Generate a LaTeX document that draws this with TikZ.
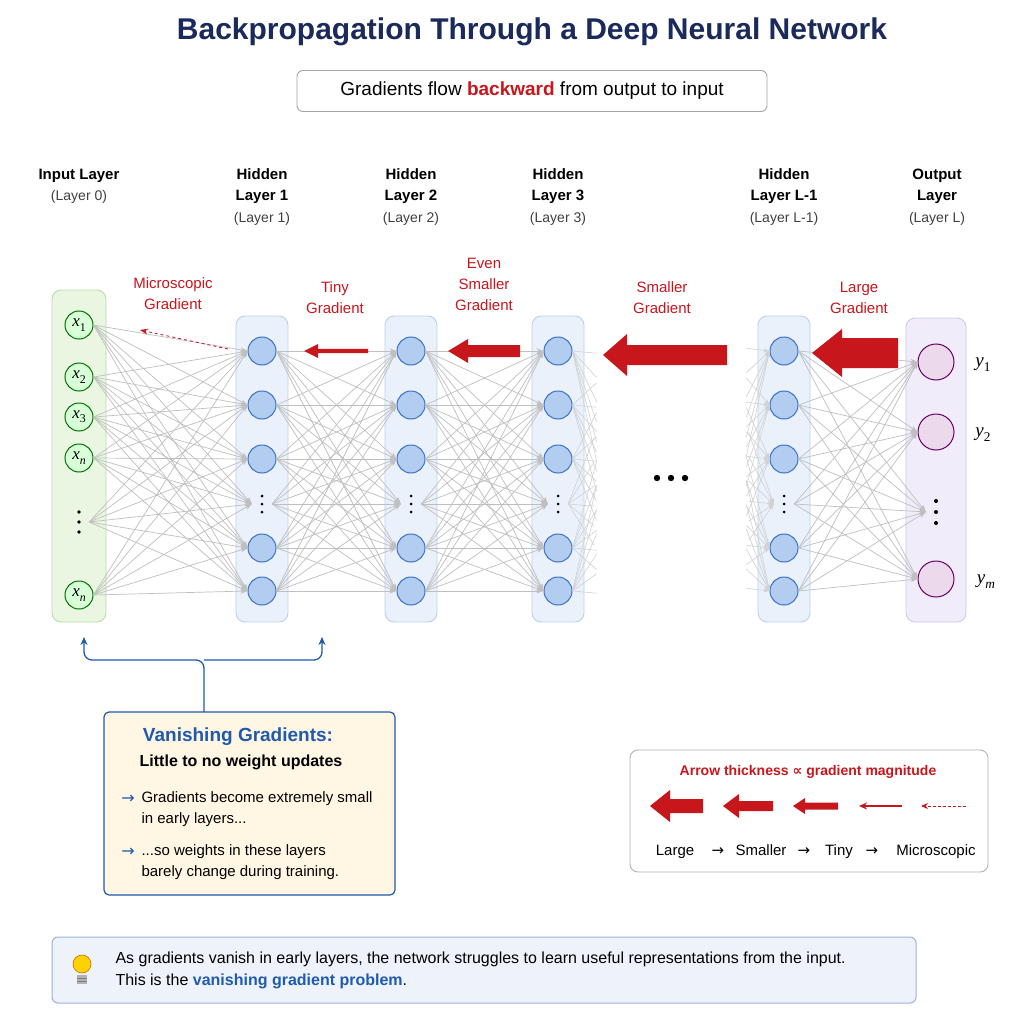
\documentclass[tikz,border=0pt]{standalone}
\usepackage{fontspec}
\setmainfont{Liberation Sans}
\newfontfamily\serifit{Liberation Serif}[Scale=1.0]
\newfontfamily\dejavu{DejaVu Sans}
\newcommand{\vv}[3]{{\serifit\itshape #1\raisebox{-0.25em}{\fontsize{0.7em}{1em}\selectfont #3#2}}}
\usetikzlibrary{arrows.meta,calc}
\definecolor{navy}{HTML}{1A2A5A}
\definecolor{gred}{HTML}{C8161D}
\definecolor{hblue}{HTML}{1F5AAE}
\definecolor{nfill}{HTML}{B3CDF0}
\definecolor{nline}{HTML}{3A72C8}
\definecolor{grnF}{HTML}{EAF6E2}
\definecolor{grnD}{HTML}{B8DDA8}
\definecolor{bluF}{HTML}{EAF1FB}
\definecolor{bluD}{HTML}{BDD0EA}
\definecolor{vioF}{HTML}{F1ECFA}
\definecolor{vioD}{HTML}{D3C6EA}
\definecolor{yelF}{HTML}{FFF7E3}
\definecolor{botF}{HTML}{EEF3FB}
\definecolor{botD}{HTML}{9DB1D6}
\begin{document}
\begin{tikzpicture}[x=1pt,y=-1pt,
  lay/.style 2 args={draw=#1, fill=#2, rounded corners=9pt, line width=0.9pt},
  hn/.style={circle, minimum size=28pt, inner sep=0, draw=nline, fill=nfill, line width=1pt},
  inn/.style={circle, minimum size=28pt, inner sep=0, draw=green!45!black, fill=green!15, line width=1pt, font=\fontsize{17}{19}\selectfont},
  outn/.style={circle, minimum size=36pt, inner sep=0, draw=violet!80!black, fill=violet!15, line width=1pt},
  hd/.style={font=\fontsize{15}{21}\selectfont\bfseries, align=center},
  sub/.style={font=\fontsize{14}{16}\selectfont, text=black!75},
  rl/.style={font=\fontsize{15}{21}\selectfont, text=gred, align=center},
  edge/.style={draw=black!25, line width=0.7pt, -{Stealth[length=7pt,width=5pt]}},
  dotn/.style={inner sep=0, minimum size=20pt}]
\useasboundingbox (0,0) rectangle (1024,1024);
\fill[white] (0,0) rectangle (1024,1024);
% title
\node[font=\fontsize{30}{32}\selectfont\bfseries, text=navy] (title) at (532,32) {Backpropagation Through a Deep Neural Network};
\node[draw=black!35, rounded corners=6pt, minimum width=470pt, minimum height=41pt, line width=0.9pt, font=\fontsize{19}{21}\selectfont] (subt) at (532,91) {Gradients flow \textcolor{gred}{\bfseries backward} from output to input};
% headers
\node[hd] (h0) at (79,176) {Input Layer}; \node[sub] (h0s) at (79,197) {(Layer 0)};
\foreach \x/\n/\t in {262/1/Layer 1,411/2/Layer 2,558/3/Layer 3,784/4/Layer L-1}{
  \node[hd] (hh\n) at (\x,186) {Hidden\\\t};
}
\node[sub] (hs1) at (262,219) {(Layer 1)};
\node[sub] (hs2) at (411,219) {(Layer 2)};
\node[sub] (hs3) at (558,219) {(Layer 3)};
\node[sub] (hs4) at (784,219) {(Layer L-1)};
\node[hd] (h5) at (937,186) {Output\\Layer}; \node[sub] (h5s) at (937,219) {(Layer L)};
% layer boxes
\draw[lay={grnD}{grnF}] (52,290) rectangle (106,622);
\foreach \x in {262,411,558,784}{\draw[lay={bluD}{bluF}] (\x-26,316) rectangle (\x+26,622);}
\draw[lay={vioD}{vioF}] (906,318) rectangle (966,622);
% input nodes
\node[inn] (L0-1) at (79,325) {\vv{x}{1}{\upshape}};
\node[inn] (L0-2) at (79,377) {\vv{x}{2}{\upshape}};
\node[inn] (L0-3) at (79,417) {\vv{x}{3}{\upshape}};
\node[inn] (L0-4) at (79,458) {\vv{x}{n}{}};
\node[dotn] (L0-5) at (79,522) {};
\node[inn] (L0-6) at (79,595) {\vv{x}{n}{}};
\foreach \d in {-10,0,10}{\fill (79,522+\d) circle (1.8pt);}
% hidden
\foreach \x/\l in {262/1,411/2,558/3,784/4}{
  \node[hn] (L\l-1) at (\x,351) {};
  \node[hn] (L\l-2) at (\x,405) {};
  \node[hn] (L\l-3) at (\x,459) {};
  \node[dotn] (L\l-4) at (\x,504) {};
  \node[hn] (L\l-5) at (\x,548) {};
  \node[hn] (L\l-6) at (\x,591) {};
  \foreach \d in {-8,0,8}{\fill (\x,504+\d) circle (1.5pt);}
}
% output
\node[outn] (L5-1) at (936,362) {};
\node[outn] (L5-2) at (936,432) {};
\node[dotn] (L5-3) at (936,512) {};
\node[outn] (L5-4) at (936,579) {};
\foreach \d in {-11,0,11}{\fill (936,512+\d) circle (2pt);}
\node[font=\fontsize{19}{21}\selectfont] (y1) at (983,365) {\vv{y}{1}{\upshape}};
\node[font=\fontsize{19}{21}\selectfont] (y2) at (983,435) {\vv{y}{2}{\upshape}};
\node[font=\fontsize{19}{21}\selectfont] (ym) at (986,582) {\vv{y}{m}{}};
\node[inner sep=0] (ell) at (671,478) {};
\foreach \d in {-14,0,14}{\fill (671+\d,478) circle (3.2pt);}
% edges
\foreach \i in {1,...,6}{\foreach \j in {1,...,6}{
  \draw[edge] (L0-\i.east) -- (L1-\j.west);
  \draw[edge] (L1-\i.east) -- (L2-\j.west);
  \draw[edge] (L2-\i.east) -- (L3-\j.west);
}}
\foreach \i in {1,...,6}{\foreach \j in {1,...,4}{
  \draw[edge] (L4-\i.east) -- (L5-\j.west);
}}
\foreach \i/\y in {1/351,2/405,3/459,4/504,5/548,6/591}{
  \coordinate (s\i) at (626,\y+5);
  \coordinate (t\i) at (718,\y-6);
}
\foreach \i in {1,...,6}{\foreach \j in {1,...,6}{
  \draw[draw=black!18, line width=0.6pt] (L3-\i.east) -- ($(L3-\i.east)!0.45!(s\j)$);
  \draw[draw=black!18, line width=0.6pt, -{Stealth[length=6pt,width=4pt]}] ($(t\i)!0.55!(L4-\j.west)$) -- (L4-\j.west);
}}
% gradient labels
\node[rl] (g1) at (173,294) {Microscopic\\Gradient};
\node[rl] (g2) at (335,298) {Tiny\\Gradient};
\node[rl] (g3) at (484,284) {Even\\Smaller\\Gradient};
\node[rl] (g4) at (662,298) {Smaller\\Gradient};
\node[rl] (g5) at (859,298) {Large\\Gradient};
% gradient arrows
\newcommand{\fatarr}[6]{% xtail xhead y shafthalf headhalf headlen
  \fill[gred] (#1,#3-#4) -- (#2+#6,#3-#4) -- (#2+#6,#3-#5) -- (#2,#3) -- (#2+#6,#3+#5) -- (#2+#6,#3+#4) -- (#1,#3+#4) -- cycle;}
\draw[gred, dashed, line width=0.8pt, -{Stealth[length=8pt,width=6pt]}] (228,349) -- (140,330);
\fatarr{368}{304}{351}{2.2}{7}{14}
\fatarr{520}{448}{351}{6}{12}{20}
\fatarr{727}{603}{355}{10}{21}{24}
\fatarr{898}{812}{353}{15}{24}{30}
% bracket
\draw[hblue, line width=1.3pt, rounded corners=8pt, {Stealth[length=8pt,width=7pt]}-] (84,637) -- (84,660) -- (204,660) -- (204,712);
\draw[hblue, line width=1.3pt, rounded corners=8pt, {Stealth[length=8pt,width=7pt]}-] (322,637) -- (322,660) -- (204,660);
% vanishing box
\draw[draw=hblue, fill=yelF, line width=1.2pt, rounded corners=5pt] (104,712) rectangle (395,895);
\node[font=\fontsize{19}{21}\selectfont\bfseries, text=hblue] (vt) at (238,737) {Vanishing Gradients:};
\node[font=\fontsize{16}{18}\selectfont\bfseries] (vs) at (241,762) {Little to no weight updates};
\node[font=\fontsize{15}{21}\selectfont, align=left, anchor=north west] (b1) at (138,788) {Gradients become extremely small\\in early layers...};
\node[font=\fontsize{15}{21}\selectfont, align=left, anchor=north west] (b2) at (138,841) {...so weights in these layers\\barely change during training.};
\node[text=hblue, font=\fontsize{16}{18}\selectfont\dejavu] (a1) at (128,799) {→};
\node[text=hblue, font=\fontsize{16}{18}\selectfont\dejavu] (a2) at (128,852) {→};
% legend
\draw[draw=black!30, rounded corners=8pt, line width=0.9pt] (630,750) rectangle (988,872);
\node[font=\fontsize{14}{16}\selectfont\bfseries, text=gred] (lt) at (808,772) {Arrow thickness {\dejavu ∝} gradient magnitude};
\fatarr{703}{650}{806}{7}{16}{20}
\fatarr{773}{723}{806}{5}{12}{16}
\fatarr{838}{793}{806}{3.5}{8}{12}
\draw[gred, line width=1.2pt, -{Stealth[length=8pt,width=7pt]}] (902,806) -- (859,806);
\draw[gred, dashed, dash pattern=on 3pt off 2pt, line width=0.9pt, -{Stealth[length=7pt,width=6pt]}] (966,806) -- (921,806);
\foreach \x/\t/\n in {675/Large/la,718/{\dejavu →}/r1,761/Smaller/lb,804/{\dejavu →}/r2,839/Tiny/lc,872/{\dejavu →}/r3,936/Microscopic/ld}{
  \node[font=\fontsize{15}{17}\selectfont, anchor=base] (\n) at (\x,855) {\t};}
% bottom box
\draw[draw=botD, fill=botF, rounded corners=6pt, line width=1pt] (52,937) rectangle (916,1003);
\node[font=\fontsize{16}{22}\selectfont, align=left, anchor=west] (bt) at (112,970) {As gradients vanish in early layers, the network struggles to learn useful representations from the input.\\This is the \textcolor{hblue}{\bfseries vanishing gradient problem}.};
% bulb
\fill[yellow!70!orange, draw=orange!80!black, line width=0.6pt] (82,964) circle (9pt);
\fill[gray!60] (77,975) rectangle (87,984);
\draw[gray, line width=0.6pt] (77,978) -- (87,978) (77,981) -- (87,981);
\end{tikzpicture}
\end{document}
